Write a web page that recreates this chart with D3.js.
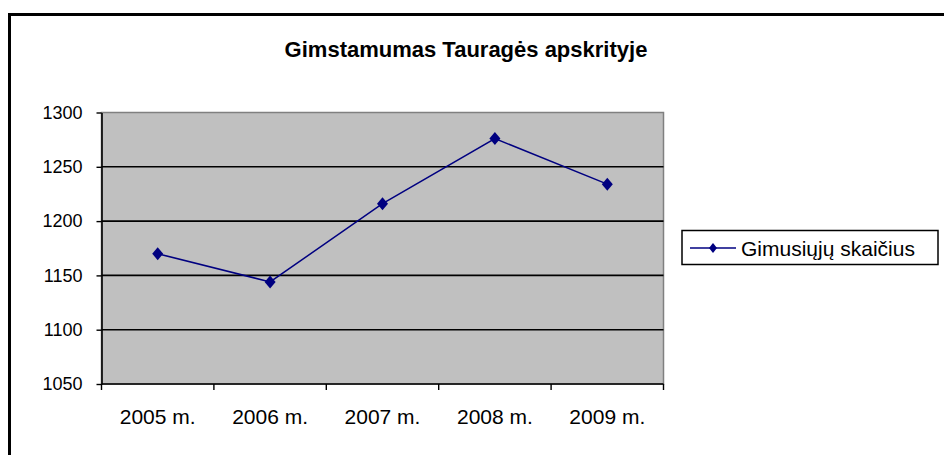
<!DOCTYPE html>
<html>
<head>
<meta charset="utf-8">
<script src="https://cdn.jsdelivr.net/npm/d3@7"></script>
<style>
  html, body { margin: 0; padding: 0; background: #fff; }
  svg { display: block; font-family: "Liberation Sans", Arial, sans-serif; }
</style>
</head>
<body>
<svg id="chart" width="944" height="455"></svg>
<script>
// Chart values.
const title = 'Gimstamumas Tauragės apskrityje';
const seriesName = 'Gimusiųjų skaičius';
const years = ['2005 m.', '2006 m.', '2007 m.', '2008 m.', '2009 m.'];
const births = [1170, 1144, 1216, 1276, 1234];
const yTicks = [1050, 1100, 1150, 1200, 1250, 1300];

const svg = d3.select('#chart');

// Outer chart frame, runs off the right and bottom edges.
svg.append('rect')
  .attr('x', 9.5).attr('y', 14.5)
  .attr('width', 960).attr('height', 460)
  .attr('fill', '#fff')
  .attr('stroke', '#000')
  .attr('stroke-width', 3);

const plot = {left: 101.5, right: 663.5, top: 112.5, bottom: 384};

const x = d3.scaleBand()
  .domain(years)
  .range([plot.left, plot.right]);

const y = d3.scaleLinear()
  .domain([1050, 1300])
  .range([plot.bottom, plot.top]);

// Grey plot area.
svg.append('rect')
  .attr('x', plot.left).attr('y', plot.top)
  .attr('width', plot.right - plot.left)
  .attr('height', plot.bottom - plot.top)
  .attr('fill', '#c0c0c0')
  .attr('stroke', '#808080')
  .attr('stroke-width', 1.5);

// Horizontal gridlines.
svg.append('g')
  .selectAll('line')
  .data(yTicks.filter((d) => d > 1050 && d < 1300))
  .join('line')
  .attr('x1', plot.left).attr('x2', plot.right)
  .attr('y1', (d) => y(d)).attr('y2', (d) => y(d))
  .attr('stroke', '#000')
  .attr('stroke-width', 1.6);

// Y axis.
const yAxis = svg.append('g')
  .attr('transform', `translate(${plot.left},0)`)
  .call(d3.axisLeft(y)
    .tickValues(yTicks)
    .tickFormat(d3.format('d'))
    .tickSize(5).tickPadding(14).tickSizeOuter(0));
yAxis.select('.domain').attr('stroke', '#000').attr('stroke-width', 1.6);
yAxis.selectAll('.tick line').attr('stroke', '#000').attr('stroke-width', 1.4);
yAxis.selectAll('.tick text')
  .attr('font-size', 18)
  .attr('fill', '#000')
  .attr('font-family', '"Liberation Sans", Arial, sans-serif');

// X axis: ticks sit on band boundaries, labels in band centres.
const xAxisG = svg.append('g');
xAxisG.append('line')
  .attr('x1', plot.left).attr('x2', plot.right)
  .attr('y1', plot.bottom).attr('y2', plot.bottom)
  .attr('stroke', '#000').attr('stroke-width', 1.6);
const boundaries = years.map((d) => x(d)).concat([x(years[years.length - 1]) + x.bandwidth()]);
xAxisG.selectAll('line.tick')
  .data(boundaries)
  .join('line')
  .attr('class', 'tick')
  .attr('x1', (d) => d).attr('x2', (d) => d)
  .attr('y1', plot.bottom).attr('y2', plot.bottom + 6)
  .attr('stroke', '#000').attr('stroke-width', 1.4);
xAxisG.selectAll('text')
  .data(years)
  .join('text')
  .attr('x', (d) => x(d) + x.bandwidth() / 2)
  .attr('y', 424)
  .attr('text-anchor', 'middle')
  .attr('font-size', 21)
  .attr('fill', '#000')
  .text((d) => d);

// Series line with diamond markers.
const cx = (i) => x(years[i]) + x.bandwidth() / 2;
const line = d3.line()
  .x((d, i) => cx(i))
  .y((d) => y(d));

svg.append('path')
  .datum(births)
  .attr('d', line)
  .attr('fill', 'none')
  .attr('stroke', '#000080')
  .attr('stroke-width', 1.5);

// Diamond marker, a touch taller than wide.
const diamondPath = 'M0,-6.5L5.5,0L0,6.5L-5.5,0Z';
svg.append('g')
  .selectAll('path')
  .data(births)
  .join('path')
  .attr('d', diamondPath)
  .attr('transform', (d, i) => `translate(${cx(i)},${y(d)})`)
  .attr('fill', '#000080');

// Title.
svg.append('text')
  .attr('x', 466)
  .attr('y', 57)
  .attr('text-anchor', 'middle')
  .attr('font-size', 22)
  .attr('font-weight', 'bold')
  .attr('fill', '#000')
  .text(title);

// Legend.
const legend = svg.append('g');
legend.append('rect')
  .attr('x', 682).attr('y', 230.5)
  .attr('width', 256).attr('height', 34)
  .attr('fill', '#fff')
  .attr('stroke', '#000')
  .attr('stroke-width', 1.5);
legend.append('line')
  .attr('x1', 690).attr('x2', 736)
  .attr('y1', 248).attr('y2', 248)
  .attr('stroke', '#000080').attr('stroke-width', 1.5);
legend.append('path')
  .attr('d', 'M0,-5L4,0L0,5L-4,0Z')
  .attr('transform', 'translate(713,248)')
  .attr('fill', '#000080');
legend.append('text')
  .attr('x', 741)
  .attr('y', 255.5)
  .attr('font-size', 21)
  .attr('fill', '#000')
  .text(seriesName);
</script>
</body>
</html>
